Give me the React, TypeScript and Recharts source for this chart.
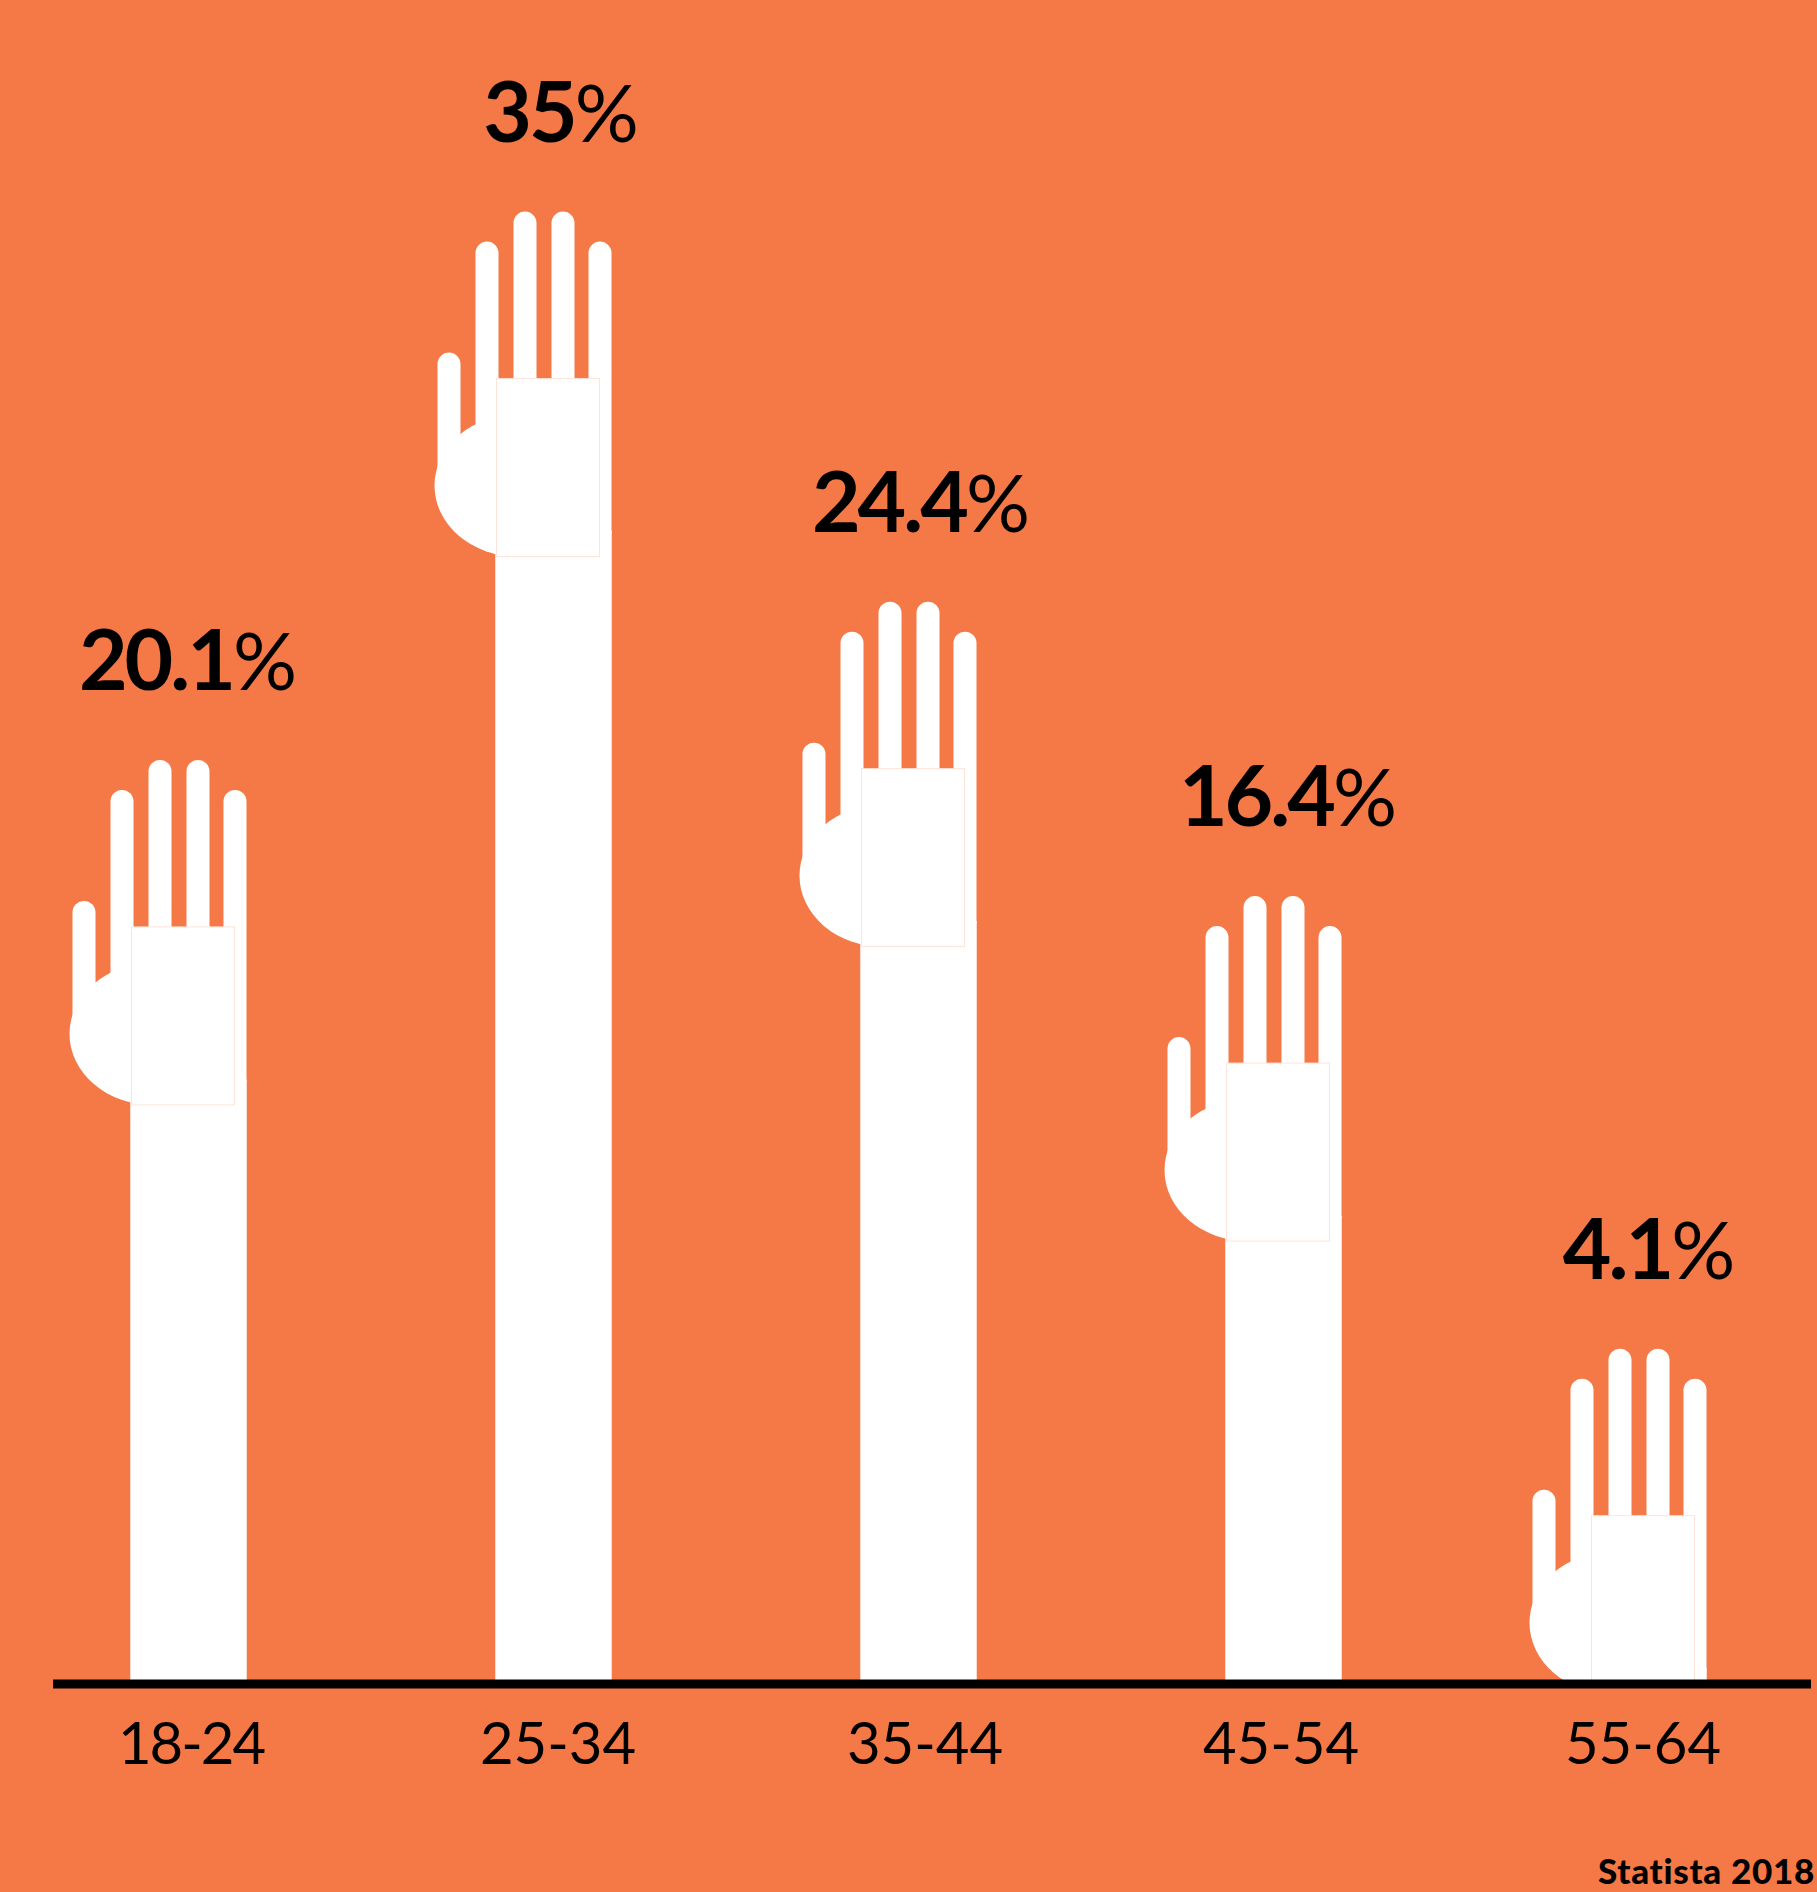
import React from "react";
import { BarChart, Bar, XAxis, YAxis, LabelList } from "recharts";

// Share of respondents raising a hand, by age group
const ageGroups = ["18-24", "25-34", "35-44", "45-54", "55-64"];
const shares = [20.1, 35, 24.4, 16.4, 4.1];
const shareLabels = ["20.1", "35", "24.4", "16.4", "4.1"];

const rows = ageGroups.map((age, i) => ({ age, share: shares[i], label: shareLabels[i] }));

const ORANGE = "#F57947";
const EDGE = "#FDE3D9";
const WIDTH = 1817;
const HEIGHT = 1892;
const FONT = "Lato, 'Noto Sans', sans-serif";

// Sideways nudges for the text, which sits slightly off the column centres
const tickNudge = [3, 5, 7, -2, -5];
const tickSpacing = [-2, 0, 0, 0, 0];
const labelNudge = [-2, 6, 1, 3, -1];

// A column topped by an open hand: four fingers, a thumb, a rounded heel and a square palm
function HandBar(props: any) {
  const { x, y, width, height } = props;
  const fingers = [
    { dx: -58, top: 179, w: 23 },
    { dx: -20, top: 290, w: 23 },
    { dx: 18, top: 320, w: 23 },
    { dx: 56, top: 320, w: 23 },
    { dx: 93, top: 290, w: 23 },
  ];
  return (
    <g>
      <rect x={x} y={y} width={width} height={height} fill="#fff" stroke={EDGE} strokeWidth={0.8} />
      {fingers.map((f, i) => (
        <path
          key={i}
          d={`M${x + f.dx} ${y - f.top + f.w / 2}
              a${f.w / 2} ${f.w / 2} 0 0 1 ${f.w} 0
              V${i === 4 ? y + 2 : y - 40} H${x + f.dx} Z`}
          fill="#fff"
        />
      ))}
      <ellipse cx={x + 22} cy={y - 46} rx={83} ry={71} fill="#fff" />
      <rect x={x + 1} y={y - 153} width={103} height={178} fill="#fff" stroke={EDGE} strokeWidth={1} />
    </g>
  );
}

function ShareLabel(props: any) {
  const { x, y, width, index, value } = props;
  return (
    <text
      x={x + width / 2 + labelNudge[index]}
      y={y - 390}
      textAnchor="middle"
      fontFamily={FONT}
      fontWeight={700}
      fontSize={84}
      letterSpacing={-3}
      fill="#000"
    >
      {value}
      <tspan fontWeight={400} fontSize={80}>%</tspan>
    </text>
  );
}

function AgeTick(props: any) {
  const { x, y, payload, index } = props;
  return (
    <text
      x={x + tickNudge[index]}
      y={y + 72}
      textAnchor="middle"
      fontFamily={FONT}
      fontSize={58}
      letterSpacing={tickSpacing[index]}
      fill="#000"
    >
      {payload.value}
    </text>
  );
}

export default function App() {
  return (
    <div style={{ position: "absolute", left: 0, top: 0, width: WIDTH, height: HEIGHT, background: ORANGE, overflow: "hidden" }}>
      <BarChart
        width={WIDTH}
        height={HEIGHT}
        data={rows}
        margin={{ top: 0, right: 6, bottom: 0, left: 53 }}
      >
        <YAxis hide domain={[3.685, 49.445]} allowDataOverflow />
        <Bar dataKey="share" barSize={116} shape={HandBar} isAnimationActive={false}>
          <LabelList dataKey="label" content={ShareLabel} />
        </Bar>
        <XAxis
          dataKey="age"
          scale="point"
          padding={{ left: 135, right: 163 }}
          height={208}
          tickLine={false}
          axisLine={{ stroke: "#000", strokeWidth: 9 }}
          tick={AgeTick}
          interval={0}
        />
      </BarChart>
      <div
        style={{
          position: "absolute",
          right: 2,
          bottom: 6,
          fontFamily: FONT,
          fontWeight: 900,
          fontSize: 35,
          letterSpacing: 0.7,
          lineHeight: "32px",
          color: "#000",
        }}
      >
        Statista 2018
      </div>
    </div>
  );
}
